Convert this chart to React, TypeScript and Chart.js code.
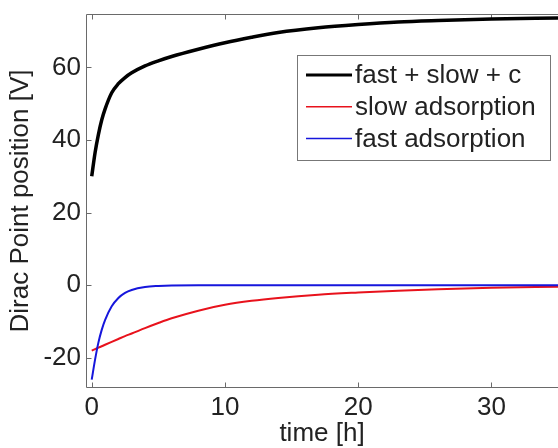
import React, { useEffect, useRef } from 'react';
import { Chart, registerables } from 'chart.js';

Chart.register(...registerables);

// ---- data ----
const timeH = [0, 0.25, 0.5, 0.75, 1, 1.5, 2, 2.5, 3, 4, 5, 6, 8, 10, 12, 14, 17, 20, 23, 26, 30, 35];
const totalV = [30, 36.5, 41.5, 45.5, 48.5, 53, 55.5, 57.2, 58.5, 60.4, 61.8, 63, 65, 66.8, 68.3, 69.6, 70.9, 71.8, 72.5, 72.9, 73.3, 73.6];
const slowV = [-18, -17.6, -17.2, -16.8, -16.4, -15.6, -14.8, -14.0, -13.3, -11.8, -10.4, -9.1, -7.0, -5.4, -4.3, -3.5, -2.6, -2.0, -1.5, -1.1, -0.7, -0.4];
const fastV = [-26, -20.5, -15.8, -12.3, -9.6, -5.8, -3.5, -2.1, -1.3, -0.5, -0.2, -0.05, 0, 0, 0, 0, 0, 0, 0, 0, 0, 0];
const xTicks = [0, 10, 20, 30];
const yTicks = [-20, 0, 20, 40, 60];
const seriesLabels = ['fast + slow + c', 'slow adsorption', 'fast adsorption'];

const FONT = '"Liberation Sans", Arial, Helvetica, sans-serif';
const AXIS = '#6a6a6a';
const TEXT = '#222222';
const C_BLACK = '#000000';
const C_RED = '#e8121c';
const C_BLUE = '#1616dc';

const toXY = (ys: number[]) => timeH.map((t, i) => ({ x: t, y: ys[i] }));

const framePlugin = {
  id: 'frame',
  beforeDatasetsDraw(chart: any) {
    const { ctx, chartArea: a, scales } = chart;
    const L = Math.round(a.left) + 0.5;
    const T = Math.round(a.top) + 0.5;
    const B = Math.round(a.bottom) - 0.5;
    const R = a.right + 2;
    ctx.save();
    ctx.strokeStyle = AXIS;
    ctx.lineWidth = 1;
    ctx.beginPath();
    ctx.moveTo(R, T);
    ctx.lineTo(L, T);
    ctx.lineTo(L, B);
    ctx.lineTo(R, B);
    const tl = 5;
    scales.x.ticks.forEach((t: any) => {
      const px = Math.round(scales.x.getPixelForValue(t.value)) + 0.5;
      ctx.moveTo(px, B);
      ctx.lineTo(px, B - tl);
      ctx.moveTo(px, T);
      ctx.lineTo(px, T + tl);
    });
    scales.y.ticks.forEach((t: any) => {
      const py = Math.round(scales.y.getPixelForValue(t.value)) + 0.5;
      ctx.moveTo(L, py);
      ctx.lineTo(L + tl, py);
    });
    ctx.stroke();
    ctx.restore();
  },
};

const legendPlugin = {
  id: 'boxLegend',
  afterDraw(chart: any) {
    const { ctx } = chart;
    const colors = [C_BLACK, C_RED, C_BLUE];
    const widths = [3, 1.5, 1.5];
    const bx = 297.5, by = 55.5, bw = 253, bh = 105;
    ctx.save();
    ctx.fillStyle = '#ffffff';
    ctx.fillRect(bx, by, bw, bh);
    ctx.strokeStyle = '#777777';
    ctx.lineWidth = 1;
    ctx.strokeRect(bx, by, bw, bh);
    ctx.font = `26px ${FONT}`;
    ctx.textBaseline = 'middle';
    ctx.textAlign = 'left';
    seriesLabels.forEach((lab, i) => {
      const y = 75 + i * 31.7;
      ctx.strokeStyle = colors[i];
      ctx.lineWidth = widths[i];
      ctx.beginPath();
      ctx.moveTo(306, y);
      ctx.lineTo(352, y);
      ctx.stroke();
      ctx.fillStyle = TEXT;
      ctx.fillText(lab, 355, y + 1);
    });
    ctx.restore();
  },
};

export default function App() {
  const canvasRef = useRef<HTMLCanvasElement | null>(null);

  useEffect(() => {
    if (!canvasRef.current) return;
    const chart = new Chart(canvasRef.current, {
      type: 'line',
      data: {
        datasets: [
          {
            label: seriesLabels[0],
            data: toXY(totalV),
            borderColor: C_BLACK,
            borderWidth: 3.5,
            pointRadius: 0,
            cubicInterpolationMode: 'monotone',
            order: 2,
          },
          {
            label: seriesLabels[1],
            data: toXY(slowV),
            borderColor: C_RED,
            borderWidth: 2,
            pointRadius: 0,
            cubicInterpolationMode: 'monotone',
            order: 1,
          },
          {
            label: seriesLabels[2],
            data: toXY(fastV),
            borderColor: C_BLUE,
            borderWidth: 2,
            pointRadius: 0,
            cubicInterpolationMode: 'monotone',
            order: 0,
          },
        ],
      },
      options: {
        animation: false,
        responsive: true,
        maintainAspectRatio: false,
        layout: { padding: { top: 14, right: 0, left: 0, bottom: 0 } },
        plugins: {
          legend: { display: false },
          tooltip: { enabled: false },
        },
        scales: {
          x: {
            type: 'linear',
            min: -0.43,
            max: 35,
            afterBuildTicks: (s: any) => {
              s.ticks = xTicks.map((v) => ({ value: v }));
            },
            afterFit: (s: any) => {
              s.height = 60;
              s.paddingLeft = 0;
              s.paddingRight = 0;
            },
            grid: { display: false, drawTicks: false },
            border: { display: false },
            ticks: {
              color: TEXT,
              font: { family: FONT, size: 26 },
              padding: 4,
              maxRotation: 0,
              autoSkip: false,
            },
            title: {
              display: true,
              text: 'time [h]',
              color: TEXT,
              font: { family: FONT, size: 26, lineHeight: 1.1 },
              padding: { top: 0, bottom: 0 },
            },
          },
          y: {
            type: 'linear',
            min: -28.3,
            max: 74.7,
            afterBuildTicks: (s: any) => {
              s.ticks = yTicks.map((v) => ({ value: v }));
            },
            afterFit: (s: any) => {
              s.width = 86;
              s.paddingTop = 0;
              s.paddingBottom = 0;
            },
            grid: { display: false, drawTicks: false },
            border: { display: false },
            ticks: {
              color: TEXT,
              font: { family: FONT, size: 26 },
              padding: 5,
              autoSkip: false,
            },
            title: {
              display: true,
              text: 'Dirac Point position [V]',
              color: TEXT,
              font: { family: FONT, size: 26, lineHeight: 1.1 },
              padding: { top: 7, bottom: 0 },
            },
          },
        },
      } as any,
      plugins: [framePlugin, legendPlugin],
    });
    return () => chart.destroy();
  }, []);

  return (
    <div style={{ position: 'fixed', left: 0, top: 0, width: 558, height: 448, background: '#ffffff', overflow: 'hidden' }}>
      <canvas ref={canvasRef} />
    </div>
  );
}
